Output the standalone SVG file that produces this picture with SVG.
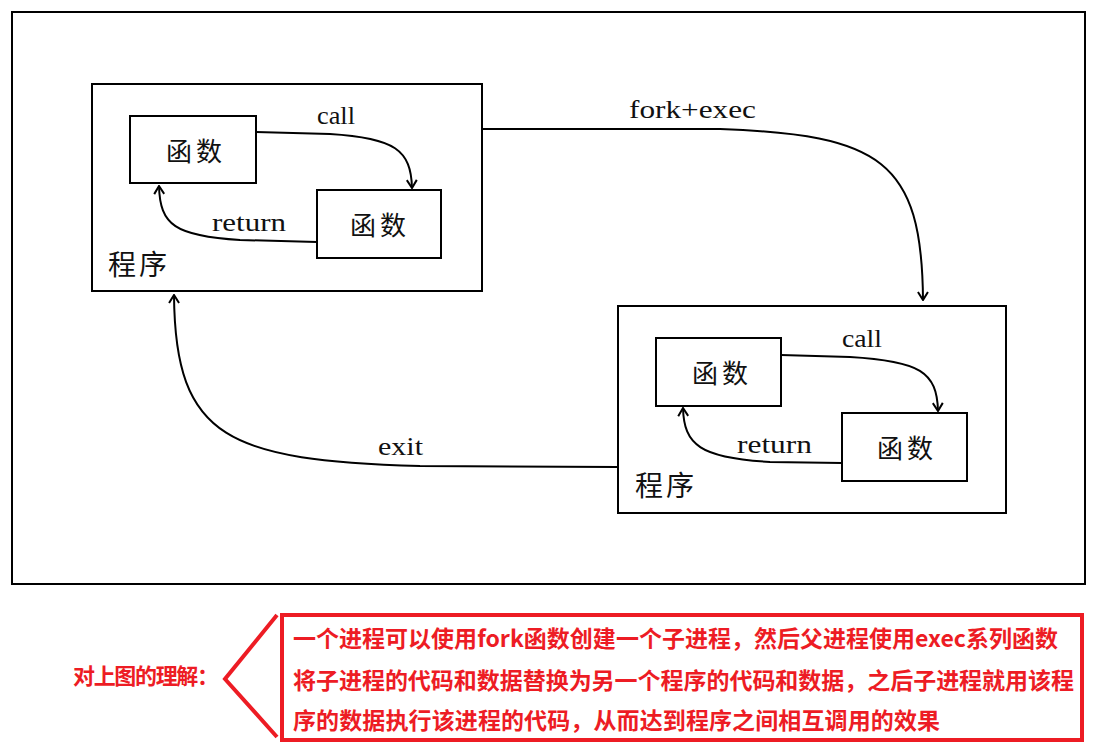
<svg xmlns="http://www.w3.org/2000/svg" width="1096" height="756" viewBox="0 0 1096 756">
  <style>
    .box { fill: #fff; stroke: #000; stroke-width: 2; }
    .conn { fill: none; stroke: #000; stroke-width: 2; }
    .cjk { font-family: "Noto Sans CJK SC", sans-serif; font-size: 26px; fill: #111; letter-spacing: 4px; }
    .prog { font-family: "Noto Sans CJK SC", sans-serif; font-size: 28px; fill: #111; letter-spacing: 3px; }
    .lbl { font-family: "Liberation Serif", serif; font-size: 26px; fill: #111; }
    .red { font-family: "Noto Sans CJK SC", sans-serif; font-weight: bold; fill: #ED1C24; }
  </style>
  <defs>
    <marker id="arr" viewBox="0 0 10 12" refX="9" refY="6" markerWidth="10" markerHeight="12" markerUnits="userSpaceOnUse" orient="auto">
      <path d="M1,1 L9,6 L1,11" fill="none" stroke="#000" stroke-width="2"/>
    </marker>
  </defs>
  <rect width="1096" height="756" fill="#fff"/>
  <rect id="frame" x="12" y="12" width="1073" height="572" fill="none" stroke="#000" stroke-width="2"/>

  <g id="prog1">
    <rect class="box" x="92" y="84" width="390" height="207"/>
    <text class="prog" x="108" y="275">程序</text>
  </g>
  <g id="func1a">
    <rect class="box" x="130" y="116" width="126" height="67"/>
    <text class="cjk" x="166" y="161">函数</text>
  </g>
  <g id="func1b">
    <rect class="box" x="317" y="190" width="124" height="68"/>
    <text class="cjk" x="350" y="235">函数</text>
  </g>

  <g id="prog2">
    <rect class="box" x="618" y="306" width="388" height="207"/>
    <text class="prog" x="635" y="496">程序</text>
  </g>
  <g id="func2a">
    <rect class="box" x="656" y="338" width="125" height="68"/>
    <text class="cjk" x="692" y="383">函数</text>
  </g>
  <g id="func2b">
    <rect class="box" x="842" y="413" width="125" height="68"/>
    <text class="cjk" x="877" y="458">函数</text>
  </g>

  <g id="connectors">
    <path class="conn" marker-end="url(#arr)" d="M256,132 L330,134 C395,138 411,150 412,188"/>
    <text class="lbl" x="317" y="124" textLength="38" lengthAdjust="spacingAndGlyphs">call</text>
    <path class="conn" marker-end="url(#arr)" d="M317,242 L240,240 C175,236 160,225 159,186"/>
    <text class="lbl" x="212" y="231" textLength="74" lengthAdjust="spacingAndGlyphs">return</text>

    <path class="conn" marker-end="url(#arr)" d="M482,129 L720,129 C880,135 922,160 923,300"/>
    <text class="lbl" x="629" y="118" textLength="127" lengthAdjust="spacingAndGlyphs">fork+exec</text>

    <path class="conn" marker-end="url(#arr)" d="M618,467 L420,466 C230,460 175,440 174,295"/>
    <text class="lbl" x="378" y="455" textLength="45" lengthAdjust="spacingAndGlyphs">exit</text>

    <path class="conn" marker-end="url(#arr)" d="M781,355 L850,357 C920,361 937,372 938,411"/>
    <text class="lbl" x="842" y="347" textLength="40" lengthAdjust="spacingAndGlyphs">call</text>
    <path class="conn" marker-end="url(#arr)" d="M842,463 L770,462 C700,458 684,445 683,408"/>
    <text class="lbl" x="737" y="453" textLength="75" lengthAdjust="spacingAndGlyphs">return</text>
  </g>

  <g id="note">
    <text class="red" x="73" y="684" font-size="22" textLength="146" lengthAdjust="spacing">对上图的理解：</text>
    <polyline points="277,615 225,679 277,737" fill="none" stroke="#ED1C24" stroke-width="4"/>
    <rect x="282" y="615" width="800" height="125" fill="none" stroke="#ED1C24" stroke-width="4"/>
    <text class="red" x="293" y="647" font-size="23" textLength="765" lengthAdjust="spacing">一个进程可以使用fork函数创建一个子进程，然后父进程使用exec系列函数</text>
    <text class="red" x="293" y="689" font-size="23" textLength="781" lengthAdjust="spacing">将子进程的代码和数据替换为另一个程序的代码和数据，之后子进程就用该程</text>
    <text class="red" x="293" y="729" font-size="23" textLength="647" lengthAdjust="spacing">序的数据执行该进程的代码，从而达到程序之间相互调用的效果</text>
  </g>
</svg>
